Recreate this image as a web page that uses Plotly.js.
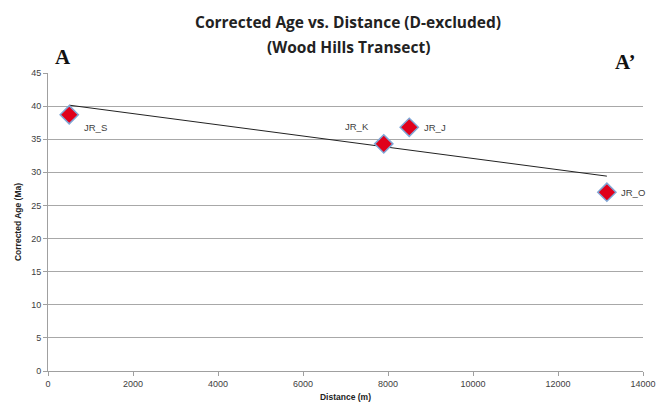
<!DOCTYPE html>
<html>
<head>
<meta charset="utf-8">
<script src="https://cdn.plot.ly/plotly-3.0.1.min.js"></script>
<style>html,body{margin:0;padding:0;background:#fff;}#chart{width:664px;height:411px;}</style>
</head>
<body>
<div id="chart"></div>
<script>
const sampleNames = ["JR_S", "JR_K", "JR_J", "JR_O"];
const distance = [500, 7900, 8500, 13150];
const correctedAge = [38.7, 34.3, 36.8, 27.0];
const labelShiftX = [26, -27, 26, 26];
const labelShiftY = [-13, 17, 0, 0];
const xTicks = [0, 2000, 4000, 6000, 8000, 10000, 12000, 14000];
const yTicks = [0, 5, 10, 15, 20, 25, 30, 35, 40, 45];
const titleLines = ["Corrected Age vs. Distance (D-excluded)", "(Wood Hills Transect)"];

// least-squares trendline from the data
const n = distance.length;
const mx = distance.reduce((a, b) => a + b, 0) / n;
const my = correctedAge.reduce((a, b) => a + b, 0) / n;
let sxy = 0, sxx = 0;
for (let i = 0; i < n; i++) { sxy += (distance[i] - mx) * (correctedAge[i] - my); sxx += (distance[i] - mx) ** 2; }
const slope = sxy / sxx, icpt = my - slope * mx;
const xMin = Math.min(...distance), xMax = Math.max(...distance);
const trendX = [xMin, xMax];
const trendY = trendX.map(x => icpt + slope * x);

const traces = [
  {x: trendX, y: trendY, mode: 'lines', line: {color: '#222', width: 1}, hoverinfo: 'skip'},
  {x: distance, y: correctedAge, mode: 'markers', text: sampleNames,
   marker: {symbol: 'diamond', size: 14, color: '#e0001b', line: {color: '#7fa6d6', width: 1.5}}}
];

const annotations = sampleNames.map((s, i) => ({
  x: distance[i], y: correctedAge[i], xref: 'x', yref: 'y', text: s, showarrow: false,
  xshift: labelShiftX[i], yshift: labelShiftY[i],
  font: {family: 'Liberation Sans, Arial, sans-serif', size: 9.5, color: '#404040'}
}));
const titleY = [1.171, 1.087];
titleLines.forEach((t, i) => annotations.push({xref: 'paper', yref: 'paper', x: 0.505, y: titleY[i],
  xanchor: 'center', yanchor: 'middle', text: '<b>' + t + '</b>', showarrow: false,
  font: {family: 'Open Sans, sans-serif', size: 15.5, color: '#222'}}));
annotations.push({xref: 'paper', yref: 'paper', x: 0.025, y: 1.054, xanchor: 'center', yanchor: 'middle',
  text: '<b>A</b>', showarrow: false, font: {family: 'Liberation Serif, serif', size: 21, color: '#111'}});
annotations.push({xref: 'paper', yref: 'paper', x: 0.970, y: 1.037, xanchor: 'center', yanchor: 'middle',
  text: '<b>A\u2019</b>', showarrow: false, font: {family: 'Liberation Serif, serif', size: 21, color: '#111'}});

const layout = {
  width: 664, height: 411,
  margin: {l: 48, r: 21, t: 73, b: 40},
  paper_bgcolor: '#fff', plot_bgcolor: '#fff',
  showlegend: false,
  xaxis: {range: [0, 14000], tickvals: xTicks, ticktext: xTicks.map(String), showgrid: false, zeroline: false,
    showline: true, linecolor: '#a0a0a0', linewidth: 1, ticks: 'outside', ticklen: 4, tickcolor: '#a0a0a0',
    tickfont: {family: 'Liberation Sans, Arial, sans-serif', size: 9, color: '#404040'},
    title: {text: '<b>Distance (m)</b>', font: {family: 'Liberation Sans, Arial, sans-serif', size: 8.5, color: '#222'}, standoff: 6}},
  yaxis: {range: [0, 45], tickvals: yTicks, ticktext: yTicks.map(String), showgrid: true, gridcolor: '#a8a8a8', gridwidth: 1,
    zeroline: false, showline: true, linecolor: '#a0a0a0', linewidth: 1, ticks: 'outside', ticklen: 4, tickcolor: '#a0a0a0',
    tickfont: {family: 'Liberation Sans, Arial, sans-serif', size: 9, color: '#404040'},
    title: {text: '<b>Corrected Age (Ma)</b>', font: {family: 'Liberation Sans, Arial, sans-serif', size: 8.5, color: '#222'}, standoff: 8}},
  annotations: annotations
};

Plotly.newPlot('chart', traces, layout, {displayModeBar: false, staticPlot: true});
</script>
</body>
</html>
